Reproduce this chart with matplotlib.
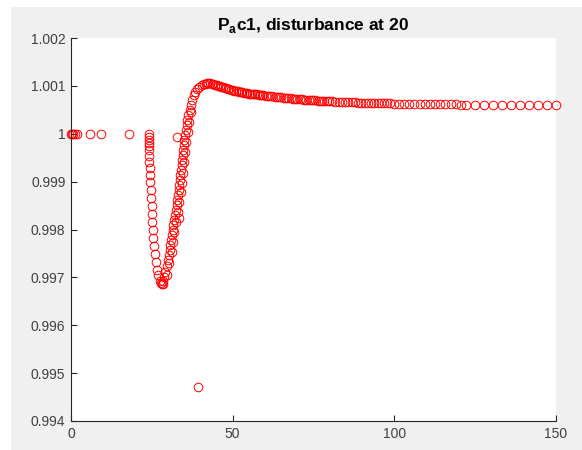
import matplotlib
matplotlib.use("Agg")
import matplotlib.pyplot as plt
from matplotlib.patches import Rectangle

plt.rcParams['font.family'] = ['Liberation Sans', 'DejaVu Sans']
plt.rcParams['mathtext.fontset'] = 'custom'
plt.rcParams['mathtext.rm'] = 'Liberation Sans'
plt.rcParams['mathtext.bf'] = 'Liberation Sans:bold'

# time points and values
t_start = [0, 0.3, 0.7, 1.2, 1.8, 5.9, 9.2, 18.0]
v_start = [1.0, 1.0, 1.0, 1.0, 1.0, 1.0, 1.0, 1.0]

t_drop = [24.1, 24.1, 24.1, 24.1, 24.1, 24.2, 24.2, 24.2, 24.3, 24.5, 24.5, 24.6, 24.8,
          24.9, 25.1, 25.2, 25.4, 25.5, 25.8, 26.1, 26.4, 26.7, 27.0, 27.4, 27.7, 28.0, 28.3]
v_drop = [1.00000, 0.99993, 0.99987, 0.99980, 0.99974, 0.99966, 0.99954, 0.99941, 0.99928,
          0.99914, 0.99899, 0.99882, 0.99866, 0.99849, 0.99832, 0.99816, 0.99799, 0.99782,
          0.99766, 0.99749, 0.99732, 0.99716, 0.99705, 0.99693, 0.99688, 0.99686, 0.99687]

t_rise = [28.5, 28.9, 29.2, 29.6, 30.0, 30.3, 30.5, 30.7, 30.9, 31.2, 31.5, 31.7, 32.0, 32.2,
          32.5, 32.7, 32.9, 33.1, 33.3, 33.4, 33.6, 33.8, 34.0, 34.2, 34.4, 34.5, 34.7, 34.9,
          35.1, 35.3, 35.6, 35.8, 36.0, 36.3, 36.7, 37.0, 37.4, 37.9, 38.5, 39.1, 39.7, 40.4, 41.1]
v_rise = [0.99692, 0.99700, 0.99711, 0.99724, 0.99736, 0.99747, 0.99757, 0.99768, 0.99778,
          0.99789, 0.99799, 0.99810, 0.99820, 0.99831, 0.99841, 0.99852, 0.99862, 0.99873,
          0.99883, 0.99893, 0.99903, 0.99914, 0.99924, 0.99935, 0.99945, 0.99956, 0.99966,
          0.99977, 0.99987, 0.99998, 1.00008, 1.00019, 1.00029, 1.00040, 1.00050, 1.00061,
          1.00071, 1.00080, 1.00087, 1.00093, 1.00098, 1.00101, 1.00103]

# second, slightly offset column of points seen in the rising branch
t_rise2 = [29.7, 30.4, 31.1, 31.5, 32.0, 32.5, 33.0, 33.5, 33.9, 34.2, 34.6, 35.0, 35.3,
           35.7, 36.1, 36.6, 37.1]
v_rise2 = [0.99705, 0.99730, 0.99752, 0.99773, 0.99794, 0.99815, 0.99836, 0.99857, 0.99878,
           0.99898, 0.99919, 0.99940, 0.99961, 0.99982, 1.00003, 1.00024, 1.00045]

t_tail = [41.6, 42.0, 42.5, 43.0, 43.5, 44.0, 44.5, 45.0, 45.5, 46.0, 46.5, 47.0, 47.5, 48.0,
          48.5, 49.0, 49.5, 50.0, 50.5, 51.0, 51.5, 52.0, 52.5, 53.0, 53.5, 54.0, 54.5, 55.0,
          55.5, 56.0, 56.5, 57.0, 57.5, 58.0, 58.5, 59.0, 59.5,
          60.2, 60.9, 61.6, 62.3, 63.0, 63.7, 64.4, 65.1, 65.8, 66.5, 67.2, 67.9, 68.6, 69.3,
          70.0, 70.7, 71.4, 72.1, 72.8, 73.5, 74.2, 74.9, 75.6, 76.3, 77.0, 77.7, 78.4, 79.1,
          79.8, 80.8, 81.8, 82.8, 83.8, 84.8, 85.8, 86.8, 87.8, 88.8, 89.8, 90.8, 91.8, 92.8,
          93.8, 94.8, 95.8, 96.8, 97.8, 98.8, 99.8, 101.4, 103.0, 104.6, 106.2, 107.8, 109.4,
          111.0, 112.6, 114.2, 115.8, 117.4, 119.0, 120.6, 122.2, 124.8, 127.6, 130.4, 133.2,
          136.0, 138.8, 141.6, 144.4, 147.2, 150.0]
v_tail = [1.00104, 1.00105, 1.00105, 1.00105, 1.00104, 1.00103, 1.00102, 1.00101, 1.00100,
          1.00099, 1.00098, 1.00097, 1.00096, 1.00095, 1.00094, 1.00093, 1.00092, 1.00091,
          1.00090, 1.00089, 1.00089, 1.00088, 1.00087, 1.00087, 1.00086, 1.00085, 1.00085,
          1.00084, 1.00084, 1.00083, 1.00083, 1.00082, 1.00082, 1.00081, 1.00081, 1.00080,
          1.00080,
          1.00079, 1.00079, 1.00078, 1.00078, 1.00077, 1.00077, 1.00076, 1.00076, 1.00075,
          1.00075, 1.00074, 1.00074, 1.00073, 1.00073, 1.00073, 1.00072, 1.00072, 1.00071,
          1.00071, 1.00071, 1.00070, 1.00070, 1.00070, 1.00069, 1.00069, 1.00069, 1.00068,
          1.00068, 1.00068, 1.00068, 1.00067, 1.00067, 1.00067, 1.00066, 1.00066, 1.00066,
          1.00066, 1.00065, 1.00065, 1.00065, 1.00065, 1.00065, 1.00064, 1.00064, 1.00064,
          1.00064, 1.00064, 1.00064, 1.00063, 1.00063, 1.00063, 1.00063, 1.00063, 1.00062,
          1.00062, 1.00062, 1.00062, 1.00062, 1.00062, 1.00062, 1.00062, 1.00061, 1.00061,
          1.00061, 1.00061, 1.00061, 1.00061, 1.00061, 1.00061, 1.00061, 1.00061, 1.00061,
          1.00061]

# stray solver points
t_odd = [32.7, 33.4, 39.3]
v_odd = [0.99994, 0.99824, 0.99471]

xticks = [0, 50, 100, 150]
yticks = [0.994, 0.995, 0.996, 0.997, 0.998, 0.999, 1.0, 1.001, 1.002]
ylabels = ['0.994', '0.995', '0.996', '0.997', '0.998', '0.999', '1', '1.001', '1.002']

fig = plt.figure(figsize=(5.82, 4.5), dpi=100, facecolor='white')
fig.patches.append(Rectangle((11 / 582, 0), 1, 1 - 7 / 450, transform=fig.transFigure,
                             facecolor='#f0f0f0', edgecolor='none', zorder=-10))
ax = fig.add_axes([71 / 582, 1 - 421 / 450, (556 - 71) / 582, (421 - 38) / 450])
ax.set_facecolor('white')

t_all = t_start + t_drop + t_rise + t_rise2 + t_tail + t_odd
v_all = v_start + v_drop + v_rise + v_rise2 + v_tail + v_odd
ax.plot(t_all, v_all, 'o', color='red', markerfacecolor='none', markersize=6.2,
        markeredgewidth=0.7, linestyle='none', clip_on=False)

ax.set_xlim(0, 150)
ax.set_ylim(0.994, 1.002)
ax.set_xticks(xticks)
ax.set_yticks(yticks)
ax.set_yticklabels(ylabels)
for s in ['top', 'right']:
    ax.spines[s].set_visible(False)
for s in ['left', 'bottom']:
    ax.spines[s].set_color('#262626')
    ax.spines[s].set_linewidth(0.8)
ax.tick_params(direction='in', length=4, width=0.8, color='#262626',
               labelcolor='#404040', labelsize=10, pad=4)

ax.set_title(r'P$_\mathbf{a}$c1, disturbance at 20', fontsize=12.5, fontweight='bold',
             color='black', pad=6)

fig.savefig('out.png', dpi=100, facecolor=fig.get_facecolor())
